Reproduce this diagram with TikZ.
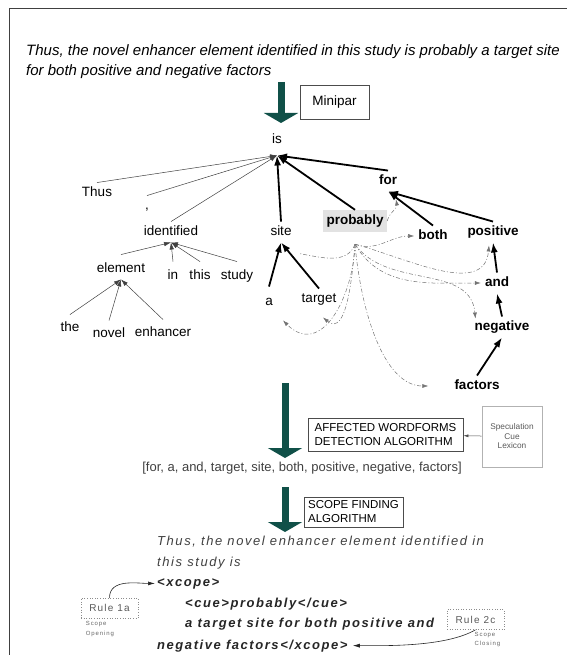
\documentclass[tikz,border=0pt]{standalone}
\usepackage{fontspec}
\setmainfont{Liberation Sans}
\newfontfamily\spacedfont[LetterSpace=12]{Liberation Sans}
\newfontfamily\tinyspacedfont[LetterSpace=15]{Liberation Sans}
\usetikzlibrary{arrows.meta}
\definecolor{flowgreen}{RGB}{16,80,72}
\definecolor{cuefill}{RGB}{226,226,226}
\newcommand{\titlefont}{\fontsize{15}{20}\selectfont\itshape}
\newcommand{\wordfont}{\fontsize{13.5}{16}\selectfont}
\newcommand{\boxfont}{\fontsize{11.5}{14}\selectfont}
\tikzset{
  word/.style={
    font=\wordfont,
    text height=9.7pt,
    text depth=2.8pt,
    inner sep=4pt
  },
  keyword/.style={
    word,
    font=\wordfont\bfseries
  },
  cuebox/.style={
    keyword,
    fill=cuefill,
    minimum height=22pt,
    inner xsep=3.5pt
  },
  stagebox/.style={
    rectangle,
    draw=black!70,
    line width=0.8pt,
    fill=white,
    font=\boxfont,
    align=left
  },
  lexbox/.style={
    rectangle,
    draw=black!30,
    line width=0.6pt,
    minimum width=60pt,
    minimum height=61pt,
    align=center,
    text=black!65,
    font=\fontsize{8.3}{9.5}\selectfont
  },
  rulebox/.style={
    rectangle,
    draw=black!45,
    dotted,
    line width=0.6pt,
    minimum width=57pt,
    minimum height=20pt,
    inner sep=0pt,
    text=black!65,
    font=\fontsize{10}{12}\spacedfont
  },
  rulenote/.style={
    align=left,
    inner sep=0pt,
    text=black!60,
    font=\fontsize{6}{9.5}\tinyspacedfont
  },
  scopeline/.style={
    anchor=base west,
    inner sep=0pt,
    text=black!75,
    font=\fontsize{13}{16}\spacedfont\itshape
  },
  scopebold/.style={
    scopeline,
    text=black!85,
    font=\fontsize{13}{16}\spacedfont\bfseries\itshape
  },
  depthin/.style={
    -{Latex[length=7pt,width=4.5pt]},
    line width=0.5pt,
    draw=black!75
  },
  depthick/.style={
    -{Latex[length=10pt,width=7pt]},
    line width=1.8pt,
    draw=black
  },
  cueline/.style={
    line width=0.5pt,
    draw=black!55,
    dash pattern=on 4pt off 2pt on 1pt off 2pt
  },
  cuearrow/.style={
    cueline,
    -{Latex[length=6pt,width=4pt]}
  },
  bigarrow/.style={
    -{Triangle[width=34pt,length=10pt]},
    line width=7pt,
    draw=flowgreen
  },
  smallarrow/.style={
    -{Latex[length=5pt,width=3pt]},
    line width=0.5pt,
    draw=black!70
  },
  rulearrow/.style={
    -{Latex[length=7pt,width=4pt]},
    line width=0.6pt,
    draw=black!85,
    shorten >=2pt
  }
}

\begin{document}
\begin{tikzpicture}[x=1pt,y=-1pt]
  \useasboundingbox (0,0) rectangle (567,655);
  \draw[black!75, line width=1pt] (9,655) -- (9,9) -- (567,9);

  \node[anchor=north west, inner sep=0pt, align=left, font=\titlefont] (sentence) at (26,44)
    {Thus, the novel enhancer element identified in this study is probably a target site\\for both positive and negative factors};

  % parser step
  \coordinate (parsetop) at (281,82);
  \coordinate (parsebot) at (281,123);
  \draw[bigarrow] (parsetop) -- (parsebot);
  \node[stagebox, font=\wordfont, minimum width=69pt, minimum height=34pt] (minipar) at (334.5,102) {Minipar};

  % dependency tree
  \node[word] (is) at (277,140) {is};
  \node[word] (thus) at (97,193) {Thus};
  \node[word] (comma) at (147,206) {,};
  \node[word] (identified) at (171,232) {identified};
  \node[word] (element) at (121,269) {element};
  \node[word] (inword) at (173,276) {in};
  \node[word] (this) at (200,276) {this};
  \node[word] (study) at (237,276) {study};
  \node[word] (the) at (70,328) {the};
  \node[word] (novel) at (109,334) {novel};
  \node[word] (enhancer) at (163,333) {enhancer};
  \node[word] (site) at (281,232) {site};
  \node[cuebox] (probably) at (355,221) {probably};
  \node[keyword] (forword) at (388,181) {for};
  \node[keyword] (both) at (433,236) {both};
  \node[keyword] (positive) at (493,232) {positive};
  \node[word] (aword) at (269,302) {a};
  \node[word] (target) at (319,299) {target};
  \node[keyword] (andword) at (497,283) {and};
  \node[keyword] (negative) at (502,327) {negative};
  \node[keyword] (factors) at (477,386) {factors};

  \coordinate (istip) at ([yshift=-5pt]is.south);
  \foreach \kid in {thus,comma,identified}
    \draw[depthin] (\kid.north) -- (istip);
  \foreach \kid in {element,inword,this,study}
    \draw[depthin] ([yshift=4pt]\kid.north) -- (identified.south);
  \foreach \kid in {the,novel,enhancer}
    \draw[depthin] ([yshift=3pt]\kid.north) -- (element.south);
  \foreach \kid in {site,probably,forword}
    \draw[depthick] (\kid.north) -- (istip);
  \draw[depthick] ([yshift=5pt]aword.north) -- (site.south);
  \draw[depthick] (target.north) -- (site.south);
  \draw[depthick] (both.north) -- (forword.south);
  \draw[depthick] (positive.north) -- (forword.south);
  \draw[depthick] (andword.north) -- (positive.south);
  \draw[depthick] (negative.north) -- (andword.south);
  \draw[depthick] (factors.north) -- (negative.south);

  % cue links
  \coordinate (cuehub) at ([yshift=-12pt]probably.south);
  \draw[cuearrow] (probably.east) to[out=75,in=-80] ([shift={(8pt,-8pt)}]forword.south);
  \draw[cueline] (cuehub) to[out=-110,in=-10] ([shift={(3pt,-11pt)}]site.south east);
  \draw[cuearrow] (cuehub) to[out=-20,in=180] (both.west);
  \draw[cuearrow] (cuehub) to[out=-15,in=-95] ([shift={(-4pt,-3pt)}]positive.south);
  \draw[cuearrow] (cuehub) to[out=-60,in=180] (andword.west);
  \draw[cuearrow] (cuehub) to[out=-55,in=95] ([shift={(5pt,-2pt)}]negative.north west);
  \draw[cuearrow, shorten >=22pt] (cuehub) to[out=-85,in=180] (factors.west);
  \draw[cuearrow] (cuehub) to[out=-95,in=-40] ([shift={(4pt,-8pt)}]target.south);
  \draw[cuearrow] (cuehub) to[out=-92,in=-45,looseness=1.3] ([shift={(14pt,-8pt)}]aword.south);

  % detection step
  \coordinate (detecttop) at (285,383);
  \coordinate (detectbot) at (285,458);
  \draw[bigarrow] (detecttop) -- (detectbot);
  \node[stagebox, minimum width=155pt, minimum height=33pt] (detect) at (385.5,434.5) {AFFECTED WORDFORMS\\DETECTION ALGORITHM};
  \node[lexbox] (lexicon) at (512,436.5) {Speculation\\Cue\\Lexicon};
  \draw[smallarrow] (lexicon) -- (detect);
  \node[font=\fontsize{13}{16}\selectfont, text=black!75, inner sep=0pt] (affected) at (302,468) {[for, a, and, target, site, both, positive, negative, factors]};

  % scope step
  \coordinate (scopetop) at (285,487);
  \coordinate (scopebot) at (285,532);
  \draw[bigarrow] (scopetop) -- (scopebot);
  \node[stagebox, minimum width=99pt, minimum height=30pt] (scopefind) at (353.5,512) {SCOPE FINDING\\ALGORITHM};

  \node[scopeline] (outa) at (157,545) {Thus, the novel enhancer element identified in};
  \node[scopeline] (outb) at (157,566) {this study is};
  \node[scopebold] (xopen) at (157,586) {<xcope>};
  \node[scopebold] (cuetag) at (185,607) {<cue>probably</cue>};
  \node[scopebold] (scopewords) at (185,627) {a target site for both positive and};
  \node[scopebold] (xclose) at (157,649) {negative factors</xcope>};

  \node[rulebox] (ruleopen) at (109.5,608) {Rule 1a};
  \node[rulenote, anchor=north west] (opennote) at ([shift={(5pt,-3pt)}]ruleopen.south west) {Scope\\Opening};
  \node[rulebox] (ruleclose) at (475.5,619.5) {Rule 2c};
  \node[rulenote, anchor=north west] (closenote) at ([shift={(-1pt,-2pt)}]ruleclose.south) {Scope\\Closing};
  \draw[rulearrow] (ruleopen.north) to[out=90,in=180] (xopen.west);
  \draw[rulearrow, shorten >=5pt] (ruleclose.south) to[out=-150,in=0,looseness=0.7] (xclose.east);
\end{tikzpicture}
\end{document}
